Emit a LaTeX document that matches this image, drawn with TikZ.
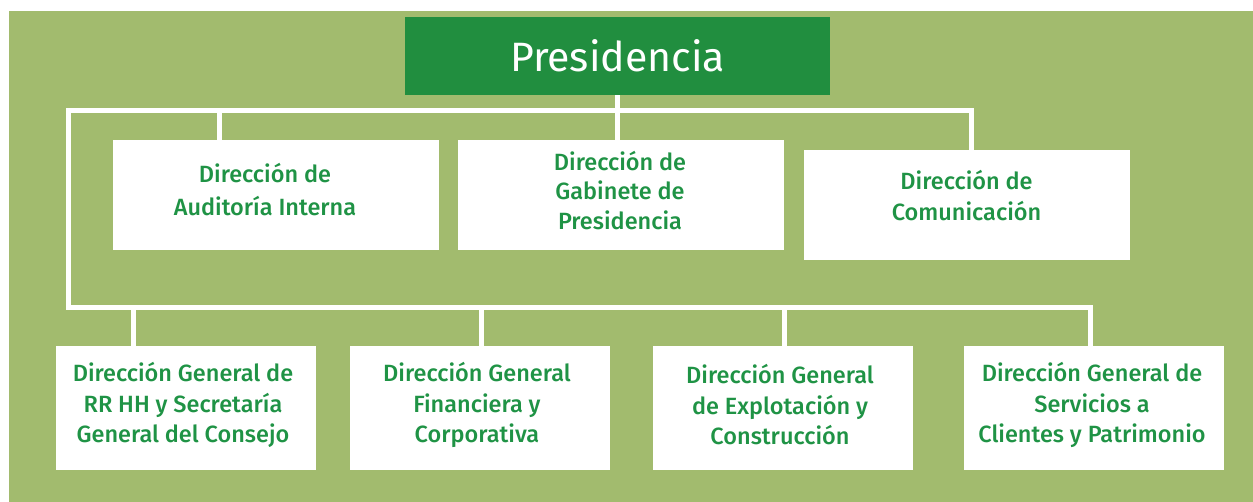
\documentclass[tikz,border=0pt]{standalone}
\usepackage{fontspec}
\setmainfont{Fira Sans}
\newfontfamily\medfont{Fira Sans Medium}
\definecolor{bg}{HTML}{A2BB6E}
\definecolor{dg}{HTML}{218E3F}
\definecolor{tg}{HTML}{1F9345}
\tikzset{
  presbox/.style={fill=dg, minimum width=425, minimum height=78, inner sep=0pt,
    text=white, font=\fontsize{41}{48}\selectfont},
  tbox/.style={fill=white, minimum width=326, minimum height=110, inner sep=0pt},
  bbox/.style={fill=white, minimum width=260, minimum height=124, inner sep=0pt},
  ttext/.style={inner sep=0pt, text=tg, align=center, font=\medfont\fontsize{23.5}{#1}\selectfont},
  conn/.style={draw=white, line width=5, line join=miter}
}
\begin{document}
\begin{tikzpicture}[x=1pt,y=-1pt]
\fill[white] (0,0) rectangle (1253,502);
\useasboundingbox (0,0) rectangle (1253,502);
\fill[bg] (9,11) rectangle (1253,502);

\node[presbox] (pres) at (617.5,56) {Presidencia};
\node[tbox] (aud) at (276,195) {};
\node[tbox] (gab) at (621,195) {};
\node[tbox] (com) at (967,205) {};
\node[bbox] (rrhh) at (186,408) {};
\node[bbox] (fin) at (479.5,408) {};
\node[bbox] (exp) at (782.5,408) {};
\node[bbox] (cli) at (1094,408) {};

\node[ttext=33] (aud-t) at (265,189.5) {Dirección de\\Auditoría Interna};
\node[ttext=29.5] (gab-t) at (620,190.5) {Dirección de\\Gabinete de\\Presidencia};
\node[ttext=31] (com-t) at (966.5,196) {Dirección de\\Comunicación};
\node[ttext=30.5] (rrhh-t) at (183,405) {Dirección General de\\RR HH y Secretaría\\General del Consejo};
\node[ttext=30.5] (fin-t) at (477,405) {Dirección General\\Financiera y\\Corporativa};
\node[ttext=30.5] (exp-t) at (780,405) {Dirección General\\de Explotación y\\Construcción};
\node[ttext=30.5] (cli-t) at (1092,405) {Dirección General de\\Servicios a\\Clientes y Patrimonio};

\coordinate (tl) at (68.5,111);
\coordinate (bl) at (68.5,308);
\coordinate (tr) at (971,111);
\coordinate (br) at (1090,308);
\coordinate (ta) at (219,111);
\coordinate (b1) at (133,308);
\coordinate (b2) at (481,308);
\coordinate (b3) at (784,308);

\draw[conn] (pres.south) -- (pres.south |- gab.north);
\draw[conn] (tr |- com.north) -- (tr) -- (tl) -- (bl) -- (br) -- (br |- cli.north);
\draw[conn] (ta) -- (ta |- aud.north);
\draw[conn] (b1) -- (b1 |- rrhh.north);
\draw[conn] (b2) -- (b2 |- fin.north);
\draw[conn] (b3) -- (b3 |- exp.north);
\end{tikzpicture}
\end{document}
